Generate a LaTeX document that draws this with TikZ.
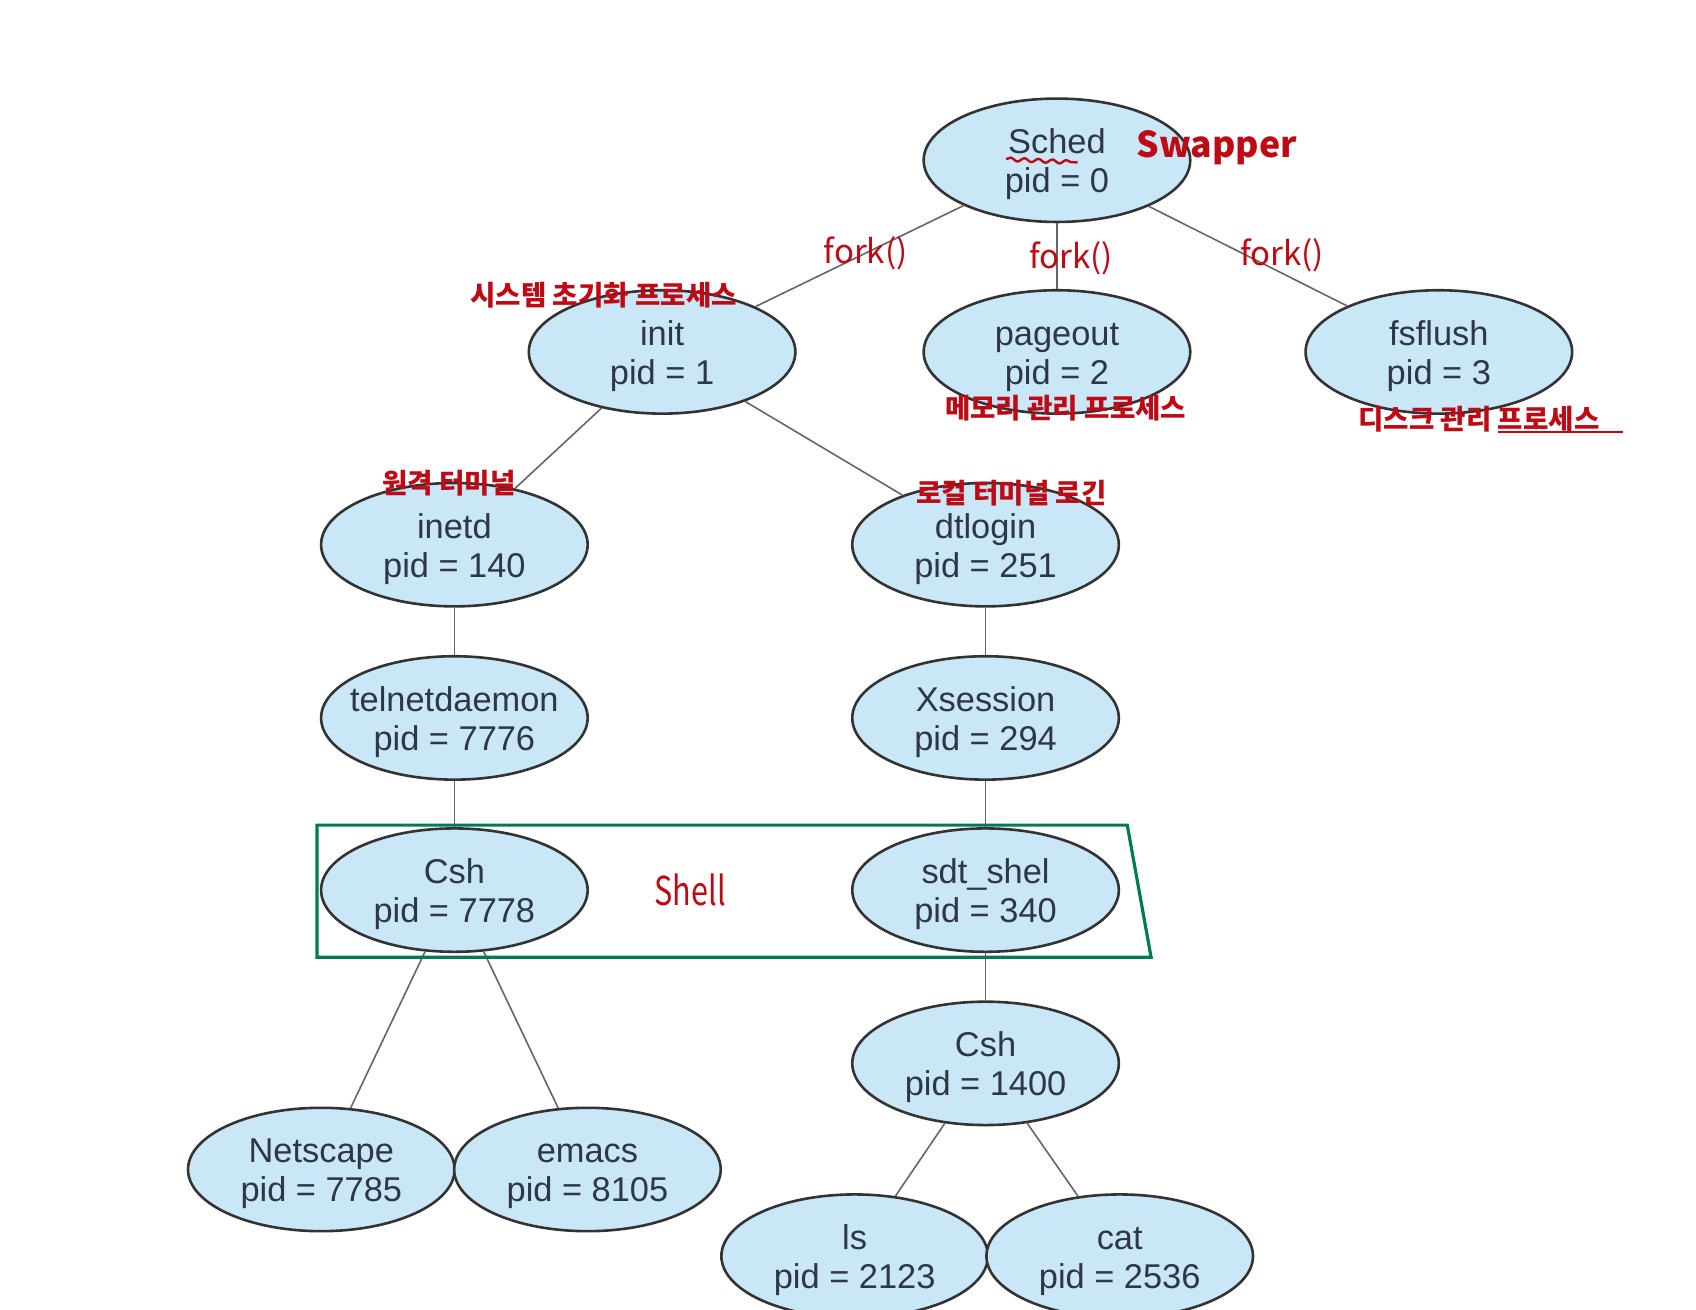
\documentclass[tikz,border=0pt]{standalone}
\usepackage{fontspec}
\setmainfont{Liberation Sans}
\newfontfamily\krfont{Noto Sans CJK KR}
\usetikzlibrary{shapes.geometric,decorations.pathmorphing}

\definecolor{procfill}{RGB}{202,231,248}
\definecolor{proctext}{RGB}{45,55,70}
\definecolor{inkred}{RGB}{190,10,20}
\definecolor{boxgreen}{RGB}{0,122,85}

\newcommand{\pname}[2]{\raisebox{-6.9pt}[0pt][0pt]{\makebox[0pt]{\begin{tabular}{@{}c@{}}#1\\pid = #2\end{tabular}}}}

\tikzset{
  proc/.style={ellipse, draw=black!80, line width=1.3pt, fill=procfill, text=proctext,
    minimum width=133.3pt, minimum height=61.7pt, inner sep=0pt,
    font=\fontsize{17.2}{19.5}\selectfont},
  link/.style={draw=black!60, line width=0.8pt},
  note/.style={text=inkred, inner sep=0pt, font=\krfont\bfseries\fontsize{13.8}{15}\selectfont},
  forknote/.style={note, font=\krfont\fontsize{16.5}{18}\selectfont},
}

\begin{document}
\begin{tikzpicture}[x=0.5410pt, y=-0.5415pt]
    \fill[white] (0,0) rectangle (1567.7,1209.6);
    \useasboundingbox (0,0) rectangle (1567.7,1209.6);

    % processes
    \node[proc] (sched) at (977,148) {\pname{Sched}{0}};
    \node[proc] (init) at (612,325) {\pname{init}{1}};
    \node[proc] (pageout) at (977,325) {\pname{pageout}{2}};
    \node[proc] (fsflush) at (1330,325) {\pname{fsflush}{3}};
    \node[proc] (inetd) at (420,503) {\pname{inetd}{140}};
    \node[proc] (dtlogin) at (911,503) {\pname{dtlogin}{251}};
    \node[proc] (telnet) at (420,663) {\pname{telnetdaemon}{7776}};
    \node[proc] (xsession) at (911,663) {\pname{Xsession}{294}};
    \node[proc] (csh) at (420,822) {\pname{Csh}{7778}};
    \node[proc] (sdtshel) at (911,822) {\pname{sdt\_shel}{340}};
    \node[proc] (cshb) at (911,982) {\pname{Csh}{1400}};
    \node[proc] (netscape) at (297,1080) {\pname{Netscape}{7785}};
    \node[proc] (emacs) at (543,1080) {\pname{emacs}{8105}};
    \node[proc] (ls) at (790,1160) {\pname{ls}{2123}};
    \node[proc] (cat) at (1035,1160) {\pname{cat}{2536}};

    % tree links
    \draw[link] (sched) -- (init);
    \draw[link] (sched) -- (pageout);
    \draw[link] (sched) -- (fsflush);
    \draw[link] (init) -- (inetd);
    \draw[link] (init) -- (dtlogin);
    \draw[link] (inetd) -- (telnet);
    \draw[link] (telnet) -- (csh);
    \draw[link] (dtlogin) -- (xsession);
    \draw[link] (xsession) -- (sdtshel);
    \draw[link] (sdtshel) -- (cshb);
    \draw[link] (csh) -- (netscape);
    \draw[link] (csh) -- (emacs);
    \draw[link] (cshb) -- (ls);
    \draw[link] (cshb) -- (cat);

    % shell box
    \draw[boxgreen, line width=1.6pt] (293,762) -- (1042,762) -- (1064,884) -- (293,884) -- cycle;

    % handwritten notes
    \node[note, anchor=base west, font=\krfont\bfseries\fontsize{17.8}{20}\selectfont] (swapper) at (1050,145) {Swapper};
    \draw[inkred, line width=1.2pt, decorate, decoration={snake, amplitude=0.9pt, segment length=7pt}] (930,147) -- (996,150);
    \node[forknote, anchor=base] (fork1) at (800,243) {fork()};
    \node[forknote, anchor=base] (fork2) at (990,248) {fork()};
    \node[forknote, anchor=base] (fork3) at (1185,245) {fork()};
    \node[note] (initnote) at (558,273) {시스템 초기화 프로세스};
    \node[note] (pagenote) at (985,377) {메모리 관리 프로세스};
    \node[note] (flushnote) at (1367,387) {디스크 관리 프로세스};
    \draw[inkred, line width=1.2pt] (1385,399) -- (1500,399);
    \node[note] (inetdnote) at (415,446) {원격 터미널};
    \node[note] (dtnote) at (935,455) {로컬 터미널 로긴};
    \node[note, font=\krfont\fontsize{15.3}{17}\selectfont] (shellnote) at (638,822) {\scalebox{1}[1.3]{Shell}};
\end{tikzpicture}
\end{document}
